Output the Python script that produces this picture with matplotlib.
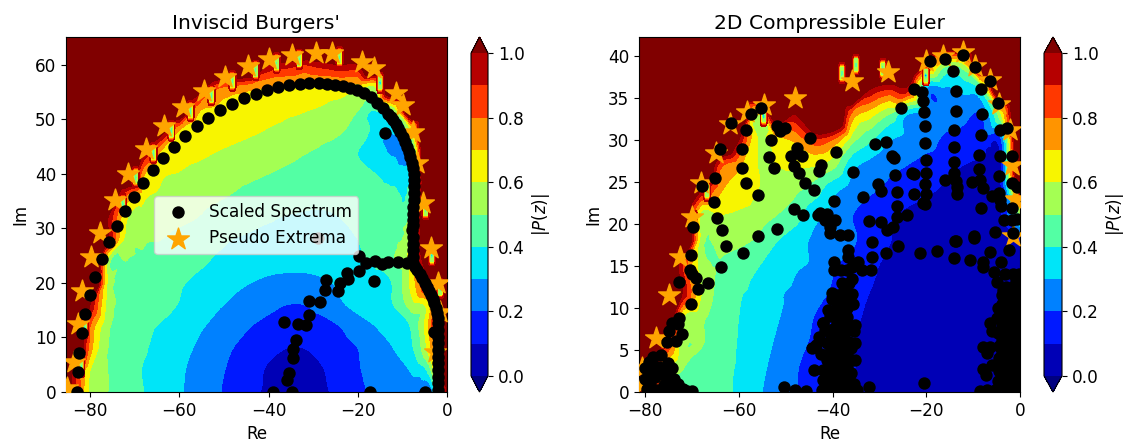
import numpy as np
import matplotlib
matplotlib.use('Agg')
import matplotlib.pyplot as plt
import matplotlib.tri as mtri

levels = [0.0, 0.1, 0.2, 0.3, 0.4, 0.5, 0.6, 0.7, 0.8, 0.9, 1.0]
cbar_ticks = [0.0, 0.2, 0.4, 0.6, 0.8, 1.0]

# |P(z)| on a coarse grid, one row per Im value
burgers_re = [-88, -84, -80, -76, -72, -68, -64, -60, -56, -52, -48, -44, -40, -36, -32, -28, -24, -20, -16, -12, -8, -4, 0]
burgers_im = [0, 4, 8, 12, 16, 20, 24, 28, 32, 36, 40, 44, 48, 52, 56, 60, 64, 68]
burgers_p = [
    [3, 1.0, .57, .5, .45, .4, .355, .31, .265, .215, .17, .12, .085, .06, .06, .085, .125, .175, .22, .25, .25, .18, 1.0],
    [3, 1.0, .6, .5, .45, .395, .36, .315, .27, .225, .18, .135, .09, .07, .07, .095, .14, .19, .24, .28, .31, .45, 1.2],
    [3, 2, .75, .5, .45, .41, .365, .33, .29, .25, .2, .16, .125, .1, .1, .125, .165, .2, .26, .3, .38, .65, 1.2],
    [4, 3, .8, .52, .46, .42, .39, .355, .315, .28, .24, .2, .17, .145, .145, .165, .2, .25, .3, .35, .41, .72, 2],
    [4, 3, 1.0, .56, .48, .46, .43, .395, .355, .315, .285, .255, .225, .2, .2, .235, .285, .33, .36, .4, .55, .68, 2],
    [4, 4, 1.5, .58, .49, .47, .43, .41, .38, .35, .32, .3, .28, .27, .27, .285, .315, .345, .38, .41, .63, 1.0, 3],
    [4, 4, 3, .55, .5, .49, .47, .44, .42, .39, .365, .35, .335, .33, .33, .34, .36, .385, .41, .49, .65, 1.2, 3],
    [4, 4, 3, 1.0, .57, .51, .5, .47, .45, .425, .4, .385, .375, .37, .37, .375, .385, .4, .43, .47, .62, 1.5, 3],
    [4, 4, 4, 1.0, .62, .58, .55, .525, .5, .47, .45, .43, .41, .395, .39, .39, .4, .42, .44, .46, .55, 1.5, 3],
    [4, 4, 4, 3, .8, .63, .585, .56, .535, .515, .495, .475, .46, .445, .43, .42, .42, .42, .43, .42, .48, 2, 4],
    [4, 4, 4, 4, 2, .72, .62, .595, .57, .55, .53, .515, .5, .485, .47, .455, .44, .43, .4, .37, .4, 3, 4],
    [4, 4, 4, 4, 4, 1.0, .68, .645, .625, .6, .58, .56, .545, .525, .505, .485, .46, .4, .34, .29, .35, 4, 4],
    [4, 4, 4, 4, 4, 4, 1.1, .7, .675, .655, .635, .615, .595, .58, .56, .53, .51, .46, .37, .32, .6, 4, 4],
    [4, 4, 4, 4, 4, 4, 4, 1.3, .75, .69, .67, .65, .635, .62, .61, .59, .56, .51, .42, .55, 3, 4, 4],
    [4, 4, 4, 4, 4, 4, 4, 4, 1.2, .85, .78, .74, .71, .7, .69, .68, .68, .65, .6, 1.5, 4, 4, 4],
    [4, 4, 4, 4, 4, 4, 4, 4, 4, 4, 3, 1.5, 1.0, .95, .9, .95, 1.0, 1.0, 2.5, 4, 4, 4, 4],
    [4, 4, 4, 4, 4, 4, 4, 4, 4, 4, 4, 4, 4, 4, 4, 4, 4, 4, 4, 4, 4, 4, 4],
    [4, 4, 4, 4, 4, 4, 4, 4, 4, 4, 4, 4, 4, 4, 4, 4, 4, 4, 4, 4, 4, 4, 4],
]

euler_re = [-84, -80, -76, -72, -68, -64, -60, -56, -52, -48, -44, -40, -36, -32, -28, -24, -20, -16, -12, -8, -4, 0]
euler_im = [0, 3, 6, 9, 12, 15, 18, 21, 24, 27, 30, 33, 36, 39, 42, 45]
euler_p = [
    [4, 1.5, .55, .49, .46, .42, .385, .315, .26, .205, .16, .125, .1, .08, .06, .05, .04, .04, .04, .05, .06, .08],
    [4, 3, .7, .51, .47, .425, .39, .33, .27, .21, .165, .13, .105, .08, .06, .05, .04, .04, .04, .05, .06, .08],
    [4, 4, 1.0, .55, .51, .44, .395, .35, .29, .235, .185, .14, .105, .085, .065, .05, .04, .04, .04, .05, .07, .08],
    [4, 4, 3, .62, .53, .45, .4, .365, .31, .26, .2, .16, .115, .09, .07, .055, .045, .04, .045, .055, .08, .08],
    [4, 4, 4, 1.0, .6, .47, .41, .385, .315, .285, .235, .19, .14, .1, .075, .055, .045, .04, .045, .055, .085, .08],
    [4, 4, 4, .9, .55, .49, .45, .405, .355, .31, .285, .21, .17, .12, .08, .06, .05, .045, .05, .06, .09, .09],
    [4, 4, 4, 4, .55, .54, .52, .485, .405, .34, .285, .25, .215, .155, .105, .07, .055, .05, .05, .06, .09, .1],
    [4, 4, 4, 4, .56, .6, .58, .55, .5, .45, .33, .275, .205, .15, .11, .085, .065, .055, .055, .06, .09, .5],
    [4, 4, 4, 4, 1.0, .72, .67, .6, .56, .52, .45, .33, .26, .215, .18, .14, .115, .09, .075, .07, .085, 1.0],
    [4, 4, 4, 4, 4, .85, .72, .6, .6, .62, .61, .54, .34, .27, .225, .2, .155, .125, .1, .085, .1, 1.5],
    [4, 4, 4, 4, 4, 3, 1.0, .6, .66, .72, .87, .8, .55, .42, .31, .27, .25, .18, .17, .16, .2, 4],
    [4, 4, 4, 4, 4, 4, 3, .55, 1.2, 1.0, 4, 4, .78, .64, .5, .3, .25, .25, .23, .21, .6, 4],
    [4, 4, 4, 4, 4, 4, 4, 4, 4, 4, 4, 4, 2, 1.0, .9, .95, .28, .28, .33, .45, 3, 4],
    [4, 4, 4, 4, 4, 4, 4, 4, 4, 4, 4, 4, 4, 4, 4, 4, .9, .55, .6, 1.5, 4, 4],
    [4, 4, 4, 4, 4, 4, 4, 4, 4, 4, 4, 4, 4, 4, 4, 4, 4, 2, 2, 4, 4, 4],
    [4, 4, 4, 4, 4, 4, 4, 4, 4, 4, 4, 4, 4, 4, 4, 4, 4, 4, 4, 4, 4, 4],
]

# small dips of |P(z)| next to the boundary: (Re, Im, lowest value)
burgers_spots = [
    (-72.7, 34.5, .35), (-69.8, 39.4, .35), (-65.8, 43.8, .35), (-61.8, 47.9, .35), (-57.5, 51.5, .35),
    (-52.8, 54.4, .4), (-48.1, 57, .4), (-42.9, 59, .4), (-38.2, 60.3, .45), (-33.1, 61, .45), (-24.1, 61.4, .45),
    (-15, 56.7, .15), (-82, 4.5, .25), (-81.2, 11.7, .25), (-3.4, 25, .25), (-1.5, 19, .3), (-4.8, 33.5, .3),
]
euler_spots = [
    (-38, 37.9, .25), (-35, 38.9, .25), (-29.3, 38.4, .3), (-54.7, 32.8, .15), (-20.1, 37.6, .1),
    (-69.6, 20.4, .15), (-66.8, 23.9, .3),
]
spot_edge = 1.3
spot_rim = 0.55

burgers_dots = [
    (-83, 0), (-82.8, 3.7), (-82.5, 7.2), (-81.8, 10.8), (-81.2, 14.3), (-80, 17.8), (-78.9, 21.1), (-77.4, 24.4),
    (-75.8, 27.5), (-74, 30.5), (-72.2, 33.2), (-70.2, 35.8), (-68.2, 38.3), (-65.9, 40.7), (-63.7, 42.9), (-61.2, 45),
    (-58.7, 47), (-56.1, 48.7), (-53.6, 50.3), (-50.9, 51.7), (-48.2, 52.8), (-45.5, 53.9), (-42.8, 54.7), (-40.4, 55.4),
    (-37.9, 56), (-35.4, 56.3), (-33, 56.5), (-30.9, 56.7), (-28.7, 56.7), (-26.9, 56.5), (-25.1, 56.3), (-23.4, 56.2),
    (-21.8, 55.8), (-20.2, 55.4), (-18.6, 54.8), (-17, 54.1), (-15.7, 53), (-14.3, 52.1), (-13.2, 51), (-12.1, 49.9),
    (-11, 48.4), (-9.9, 46.8), (-9, 45), (-8.3, 43.1), (-7.6, 41.1), (-7.4, 38.9), (-7.4, 36.5), (-7.6, 33.9),
    (-7.6, 31.6), (-7.8, 29.7), (-7.7, 28.5), (-7.7, 26), (-7.6, 23.7), (-6.7, 22.4), (-5.6, 20.9), (-4.5, 19.3),
    (-3.6, 17.8), (-2.9, 16.3), (-2.2, 14.5), (-2, 12.7), (-2, 10.1), (-2, 7.7), (-2, 5.3), (-2, 2.8), (-2, 0.4),
    (-12.6, 50.4), (-11.5, 49.2), (-10.5, 47.6), (-9.4, 45.9), (-8.6, 44), (-7.9, 42), (-7.5, 40), (-7.4, 37.7),
    (-7.5, 35.2), (-7.6, 32.7), (-7.7, 30.6), (-7.7, 27.2), (-7.7, 24.8), (-7.2, 23), (-6.1, 21.6), (-5, 20),
    (-4, 18.5), (-3.2, 17), (-2.5, 15.4), (-2.1, 13.6), (-2, 11.4), (-2, 8.9), (-2, 6.5), (-2, 4), (-2, 1.6),
    (-2.9, 11), (-13.9, 47.5), (-29, 28.3),
    (-9, 23.7), (-11, 23.9), (-13.2, 23.9), (-14.6, 23.5), (-16.1, 24), (-18.2, 23.7), (-19.7, 25), (-19.7, 22.2),
    (-22.4, 21.8), (-22.2, 20.7), (-24, 20), (-16.4, 20.4), (-24.4, 18.5), (-27.1, 20.5), (-27.4, 18.7), (-28.5, 16.5),
    (-30.9, 16.7), (-30.9, 14.1), (-31.6, 12.3), (-33.4, 12.5), (-36.5, 12.8), (-33.9, 9.5), (-34.5, 7.9), (-34.5, 6.2),
    (-35.4, 3.5), (-35.9, 2.2), (-34.8, 0), (-39, 0), (-17.3, 0), (-4.9, 0),
]
burgers_stars = [
    (-85.2, 0.7), (-83.6, 5.5), (-82.7, 12.5), (-81.8, 18.5), (-79.8, 24.8), (-77.8, 29.2), (-74.4, 35.2), (-71.5, 40),
    (-67.5, 44.6), (-63.5, 48.7), (-59.2, 52.3), (-54.5, 55.2), (-49.8, 57.8), (-44.6, 59.8), (-39.9, 61.1), (-34.8, 61.8),
    (-29.4, 62.2), (-25.8, 62.2), (-19, 60.6), (-16.4, 59.4), (-11.4, 54.9), (-9.9, 52.7), (-7.6, 47.7), (-6.7, 42),
    (-5.4, 34.7), (-3.6, 26.4), (-2, 20), (-1.6, 14.7), (-2.7, 7.3),
]

euler_dots_upper = [
    (-55.2, 33.8), (-57.5, 33), (-61.6, 32), (-58.5, 31.2), (-51.9, 31.6), (-50.2, 31.4), (-51.3, 31), (-53.1, 29.9),
    (-44.9, 30.2), (-47.5, 29), (-46.6, 28.1), (-48.9, 28), (-64, 28.9), (-59.3, 28.9), (-53.6, 27.9), (-52.4, 26.6),
    (-48.2, 26.9), (-47.2, 26), (-59.4, 26.6), (-65.1, 25.4), (-67.9, 24.5), (-58.4, 24.9), (-45.8, 24.8), (-44, 24),
    (-56, 23.4), (-65.2, 22.6), (-48.2, 21.8), (-46.4, 21.1), (-43, 21), (-64.7, 20.7), (-69.8, 19.6), (-63.5, 19.3),
    (-51.9, 19.4), (-56, 18.6), (-62.7, 17.4), (-59.2, 16.5), (-70.3, 16.3), (-63.7, 14.9), (-70.4, 14.5), (-70, 14),
    (-69.1, 13.5), (-66.6, 12.9), (-72.8, 13.1), (-68.8, 12.2), (-70.3, 10.5), (-72.7, 8.8), (-74.3, 8.2), (-73, 8.1),
    (-74.8, 7.3), (-72.2, 6.9), (-73.5, 6.1), (-75.3, 5.9),
]
euler_dots_corner = [
    (-76.7, 4.4), (-78.3, 4.2), (-79.2, 3.6), (-75.2, 3.4), (-74.3, 2.9), (-80, 2.8), (-77.1, 3), (-78.5, 3), (-73.9, 1.5),
    (-80, 1.5), (-77.8, 1.8), (-76, 2), (-78.9, 1), (-76, 0.8), (-74.6, 1), (-73.2, 0.2), (-71, 0.1), (-70, 0.1), (-77.5, 0.2),
    (-75, 2), (-79.5, 0.4), (-75.5, 0.2), (-79, 2.2), (-77, 2.4), (-75.5, 2.8), (-74.8, 0.6), (-73, 1), (-72, 0.3),
    (-50.4, 0.6), (-48.1, 0.2), (-45.6, 0.1),
]
euler_dots_top = [
    (-12.2, 40.1), (-16.1, 39.6), (-19.1, 39.4), (-14.3, 38.1), (-9.6, 38.6), (-6.4, 37), (-13.7, 35.8), (-8.4, 36),
    (-22.6, 36), (-20.9, 35.7), (-20.6, 34.6), (-20.4, 33.3), (-13.7, 33.4), (-8.2, 33.1), (-25.4, 33.8), (-4.6, 34.3),
    (-20.3, 31.6), (-14, 31.1), (-8.4, 30.5), (-4.3, 31.2), (-2.7, 31.4), (-20.2, 29.6), (-14.1, 29.1), (-8.7, 28.2),
    (-4.3, 28.1), (-1.8, 28.1), (-28.6, 29.7), (-30.9, 29.5), (-39.2, 28.5), (-27.4, 28), (-26.9, 27.8), (-20.1, 27.6),
    (-14.1, 27.4), (-8.8, 26.5), (-42.4, 27), (-42.8, 26.3), (-35.7, 26.1), (-20.1, 26), (-14.1, 26), (-22.6, 25.9),
    (-23.1, 26), (-26.6, 25.8), (-4.5, 25.7), (-15.9, 25.2), (-13.7, 25.1), (-10.2, 25), (-8.5, 25.2), (-1.7, 24.8),
    (-0.7, 24.4), (-30.4, 24.7), (-20.3, 24.7), (-13.5, 24.4), (-8, 24.3), (-29.6, 23.9), (-26.2, 23.8), (-13.5, 23.5),
    (-33.6, 23.2), (-22.7, 23.5), (-20.1, 23.5), (-6, 23.3), (-4.5, 23.7), (-39.7, 22.7), (-20.6, 22.5), (-20.3, 22.3),
    (-4.3, 22.8), (-4.1, 22.1), (-26.2, 22.1), (-1.8, 21.9), (-8.3, 21.9), (-24.2, 21), (-26.2, 20.8), (-42.7, 21.3),
    (-41.2, 21.2), (-39.5, 20.4), (-32.3, 20.3), (-41.6, 20.4), (-29.7, 20.2), (-27.2, 19.6), (-28.3, 19.3), (-3.4, 20.4),
    (-1.8, 20.4), (-0.7, 20.6), (-1.6, 18.9), (-5.3, 19), (-9.8, 18.5), (-13.7, 18), (-40.5, 18.9), (-38.4, 18.7),
    (-36.6, 18.7), (-40.5, 19.6),
]
euler_dots_mid = [
    (-31.6, 17.8), (-26, 17.3), (-28.7, 16.5), (-21.4, 16.5), (-17.7, 16.8), (-13.8, 17.9), (-9.8, 18.3), (-14.1, 15.9),
    (-10.7, 15.7), (-7.9, 15.5), (-7.9, 14.8), (-6.4, 16.6), (-4.1, 15.4), (-2.4, 16.9), (-5.5, 14.3), (-5, 13.1),
    (-36.8, 16.9), (-36.6, 16.1), (-31.5, 16), (-39.7, 15.5), (-39.7, 14.5), (-34.5, 15.5), (-35.9, 14.9), (-33.8, 14.5),
    (-31.9, 14.5), (-35.9, 13.4), (-37.5, 12.1), (-40.2, 11.8), (-40.2, 11.1), (-35.9, 11.7), (-37.7, 11.1), (-35.7, 10.5),
    (-39.1, 10.1), (-32.3, 0.6), (-20.5, 1.1), (-43.7, 5.4), (-43.9, 2.6), (-44.3, 5.2), (-43.5, 5.6), (-42.1, 8.2),
]
euler_dots_center = [
    (-40.5, 9), (-37, 8.9), (-42, 8.2), (-35.2, 8), (-41.6, 7.4), (-35.5, 7.2), (-41.2, 5.8), (-35.2, 5.8), (-35.2, 3.8),
    (-42, 2.6), (-42, 1.4), (-35.5, 1), (-34.8, 0.2), (-42.3, 0.2), (-39, 9), (-40, 7.5), (-38, 7.5), (-36.5, 7.5),
    (-40, 6), (-38, 6), (-36.5, 6), (-41, 4.5), (-39, 4.5), (-37, 4.5), (-41, 3), (-39, 3), (-37, 3), (-40, 1.5),
    (-38, 1.5), (-36.5, 1.5), (-40, 0.3), (-38, 0.3), (-36.5, 0.3), (-39, 8.2), (-37.5, 8.2), (-39, 6.8), (-37.5, 6.8),
    (-39.5, 5.2), (-38, 5.2), (-36, 5.2), (-40, 3.8), (-38, 3.8), (-36, 3.8), (-40, 2.2), (-38, 2.2), (-36, 2.2),
    (-41, 0.8), (-39, 0.8), (-37, 0.8), (-38.5, 10), (-37, 10), (-39, 11.5), (-38, 13), (-36.5, 13), (-37, 14.5),
    (-42.5, 4.5), (-42.8, 6.5), (-41, 9.8), (-40.3, 6.8), (-41, 2), (-41.2, 3.8), (-36.7, 11), (-38.3, 14.5),
]
euler_dots_right = [
    (-6.4, 8.2), (-6, 7.2), (-7.8, 5.4), (-7.1, 4.6), (-8, 2.7), (-7.2, 2), (-6, 3.2), (-4.6, 1.3), (-8.5, 0.1), (-7.1, 0.2),
    (-5.3, 0.2), (-3.9, 11.5), (-3.6, 12.1), (-5, 8.8), (-6.4, 5.4), (-4.6, 7), (-4.5, 4), (-4.5, 2.5), (-4.5, 5.5),
    (-3, 0.5), (-3, 2), (-3, 3.5), (-3, 5), (-3, 6.5), (-3, 8), (-3, 9.5), (-3, 11), (-3, 12.5),
    (-1.5, 0.5), (-1.5, 2), (-1.5, 3.5), (-1.5, 5), (-1.5, 6.5), (-1.5, 8), (-1.5, 9.5), (-1.5, 11), (-1.5, 12.5), (-1.5, 14),
    (-0.3, 0.5), (-0.3, 2), (-0.3, 3.5), (-0.3, 5), (-0.3, 6.5), (-0.3, 8), (-0.3, 9.5), (-0.3, 11), (-0.3, 12.5), (-0.3, 14),
    (-4.8, 10), (-3.2, 14), (-2.2, 1.2), (-2.2, 2.8), (-2.2, 4.2), (-2.2, 5.8), (-2.2, 7.2), (-2.2, 8.8), (-2.2, 10.2), (-2.2, 11.8),
    (-0.9, 1.2), (-0.9, 2.8), (-0.9, 4.2), (-0.9, 5.8), (-0.9, 7.2), (-0.9, 8.8), (-0.9, 10.2), (-0.9, 11.8), (-0.9, 13.2),
    (-3.8, 1), (-3.8, 3.2), (-3.8, 4.8), (-3.8, 6.2), (-3.8, 7.8), (-3.8, 9.2), (-3.8, 10.5),
]
euler_stars = [
    (-48.1, 35), (-54.6, 34.1), (-58.3, 33.3), (-61.8, 31.9), (-64.8, 28.4), (-68.1, 24.8), (-70, 20.8), (-72.6, 16.1),
    (-75, 11.5), (-77.7, 6.4), (-80.6, 2.8), (-80.6, 1), (-35.8, 37), (-28.2, 38), (-20.1, 39.4), (-16.4, 40),
    (-12.2, 40.4), (-9.5, 38.8), (-6.4, 37.1), (-4.5, 34.2), (-2.2, 31.1), (-1.8, 27), (-1.1, 23), (-1.4, 18.5), (-1, 12.5),
]

euler_dots = (euler_dots_upper + euler_dots_corner + euler_dots_top + euler_dots_mid
              + euler_dots_center + euler_dots_right)


def draw_panel(fig, rect, cbar_rect, re, im, p, spots, dots, stars, xlim, ylim, title):
    ax = fig.add_axes(rect)
    # smooth the read values a bit, clipped first so the cubic does not ring at the cliff
    grid_re, grid_im = np.meshgrid(re, im)
    tri = mtri.Triangulation(grid_re.ravel(), grid_im.ravel())
    clipped = np.minimum(np.array(p), 1.4).ravel()
    interp = mtri.CubicTriInterpolator(tri, clipped, kind='geom')
    fine_tri, fine_p = mtri.UniformTriRefiner(tri).refine_field(clipped, triinterpolator=interp, subdiv=3)
    cs = ax.tricontourf(fine_tri, fine_p, levels=levels, cmap='jet', extend='both')
    dx = (xlim[1] - xlim[0]) * 0.006
    dy = (ylim[1] - ylim[0]) * 0.018
    e, r = spot_edge, spot_rim
    for sr, si, sv in spots:
        # only values under 1 get filled here, so the dip sits on what is already drawn
        ax.contourf([sr + k * dx for k in (-2, -1, 0, 1, 2)], [si + k * dy for k in (-2, -1, 0, 1, 2)],
                    [[e, e, e, e, e], [e, r, r, r, e], [e, r, sv, r, e], [e, r, r, r, e], [e, e, e, e, e]],
                    levels=levels, cmap='jet', vmin=0, vmax=1, zorder=1.5)
    dots = np.array(dots)
    stars = np.array(stars)
    ax.scatter(stars[:, 0], stars[:, 1], s=270, marker='*', color='orange', zorder=3, label='Pseudo Extrema')
    ax.scatter(dots[:, 0], dots[:, 1], s=80, color='black', linewidths=0, zorder=4, label='Scaled Spectrum')
    ax.set_xlim(xlim)
    ax.set_ylim(ylim)
    ax.set_xticks([-80, -60, -40, -20, 0])
    ax.set_xlabel('Re', fontsize=12)
    ax.set_ylabel('Im', fontsize=12)
    ax.set_title(title, fontsize=14.6)
    ax.tick_params(labelsize=12.2)
    cax = fig.add_axes(cbar_rect)
    cbar = fig.colorbar(cs, cax=cax, ticks=cbar_ticks)
    cbar.set_label('$|P(z)|$', fontsize=12)
    cbar.ax.tick_params(labelsize=12.2)
    return ax


W, H = 1124, 443
fig = plt.figure(figsize=(W / 100, H / 100), dpi=100)


def box(x0, x1, y0, y1):
    return [x0 / W, 1 - y1 / H, (x1 - x0) / W, (y1 - y0) / H]


ax1 = draw_panel(fig, box(66, 447, 37, 392), box(471, 488, 37, 392), burgers_re, burgers_im, burgers_p, burgers_spots,
                 burgers_dots, burgers_stars, (-85.4, 0), (0, 65.1), "Inviscid Burgers'")
ax2 = draw_panel(fig, box(639, 1020, 37, 392), box(1044, 1062, 37, 392), euler_re, euler_im, euler_p, euler_spots,
                 euler_dots, euler_stars, (-81.3, 0), (0, 42.2), '2D Compressible Euler')

handles, labels = ax1.get_legend_handles_labels()
ax1.legend(handles[::-1], labels[::-1], loc='center left', bbox_to_anchor=(0.21, 0.47), fontsize=12.2).set_zorder(10)

fig.savefig('out.png', dpi=100)
